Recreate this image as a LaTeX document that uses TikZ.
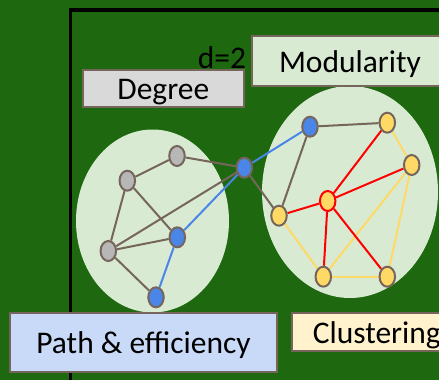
\documentclass[tikz,border=0pt]{standalone}
\usepackage{fontspec}
\setmainfont{Carlito}
\usetikzlibrary{shapes.geometric}
\definecolor{bggreen}{RGB}{30,104,16}
\definecolor{pale}{RGB}{217,234,211}
\definecolor{brownl}{RGB}{118,101,90}
\definecolor{nodegray}{RGB}{183,183,183}
\definecolor{nblue}{RGB}{74,134,232}
\definecolor{nyellow}{RGB}{255,217,102}
\definecolor{boxgray}{RGB}{217,217,217}
\definecolor{boxblue}{RGB}{201,218,248}
\definecolor{boxyellow}{RGB}{255,242,204}
\pgfdeclarelayer{bg}\pgfdeclarelayer{edges}\pgfsetlayers{bg,edges,main}
\begin{document}
\begin{tikzpicture}[x=1pt,y=-1pt,
  vert/.style={ellipse, draw=brownl, line width=2pt, minimum width=15.5pt, minimum height=20pt, inner sep=0pt},
  gv/.style={vert, fill=nodegray},
  bv/.style={vert, fill=nblue},
  yv/.style={vert, fill=nyellow},
  cv/.style={vert, fill=nyellow, draw=red},
  bedge/.style={line width=2pt, draw=brownl},
  ledge/.style={line width=2pt, draw=nblue},
  redge/.style={line width=2pt, draw=red},
  yedge/.style={line width=2pt, draw=nyellow},
  bigfont/.style={font=\fontsize{31.5}{36}\selectfont},
  lbox/.style={bigfont, draw=brownl, line width=1.6pt, inner sep=0pt, text height=22.5pt, text depth=0pt},
  clus/.style={ellipse, fill=pale, inner sep=0pt}
]
\useasboundingbox (0,0) rectangle (439,380);
\clip (0,0) rectangle (439,380);
\begin{pgfonlayer}{bg}
  \fill[bggreen] (0,0) rectangle (439,380);
  \draw[line width=3.2pt] (70.8,385) -- (70.8,10) -- (445,10);
  \node[clus, minimum width=153pt, minimum height=183pt] (cl1) at (152.5,221) {};
  \node[clus, minimum width=176pt, minimum height=212pt] (cl2) at (350,192) {};
\end{pgfonlayer}

% vertices
\node[gv] (g1) at (177,156) {};
\node[gv] (g2) at (127.3,180.7) {};
\node[gv] (g3) at (108.3,251) {};
\node[bv] (b1) at (177.3,237.3) {};
\node[bv] (b2) at (156,297.3) {};
\node[bv] (hub) at (244.3,167.7) {};
\node[bv] (rb) at (310,126.7) {};
\node[yv] (y1) at (387.3,122.7) {};
\node[yv] (y2) at (411.7,165) {};
\node[cv] (c) at (327.7,201) {};
\node[yv] (y3) at (279,215.7) {};
\node[yv] (y4) at (323.3,276.7) {};
\node[yv] (y5) at (387.3,276.7) {};

\begin{pgfonlayer}{edges}
  \draw[bedge] (g1) -- (g2);
  \draw[bedge] (g1) -- (hub);
  \draw[bedge] (g2) -- (g3);
  \draw[bedge] (g2) -- (b1);
  \draw[bedge] (g3) -- (hub);
  \draw[bedge] (g3) -- (b1);
  \draw[bedge] (g3) -- (b2);
  \draw[bedge] (hub) -- (y3);
  \draw[bedge] (rb) -- (y1);
  \draw[bedge] (rb) -- (y3);
  \draw[ledge] (b1) -- (b2);
  \draw[ledge] (b1) -- (hub);
  \draw[ledge] (hub) -- (rb);
  \draw[yedge] (y1) -- (y2);
  \draw[yedge] (y2) -- (y5);
  \draw[yedge] (y2) -- (y4);
  \draw[yedge] (y3) -- (y4);
  \draw[yedge] (y4) -- (y5);
  \draw[redge] (c) -- (y1);
  \draw[redge] (c) -- (y2);
  \draw[redge] (c) -- (y3);
  \draw[redge] (c) -- (y4);
  \draw[redge] (c) -- (y5);
\end{pgfonlayer}

% label boxes
\node[lbox, fill=boxgray, minimum width=161pt, minimum height=37pt] (deg) at (163.3,88.5) {Degree};
\node[lbox, fill=pale, minimum width=196pt, minimum height=50pt] (mod) at (350,61) {Modularity};
\node[lbox, fill=boxblue, minimum width=267pt, minimum height=59pt] (path) at (143.5,342.3) {Path \& efficiency};
\node[lbox, fill=boxyellow, minimum height=38pt, anchor=west, inner xsep=21pt] (clu) at (291,332) {Clustering};
\node[bigfont, anchor=base, inner sep=0pt] (d2) at (222,68.3) {d=2};
\end{tikzpicture}
\end{document}
